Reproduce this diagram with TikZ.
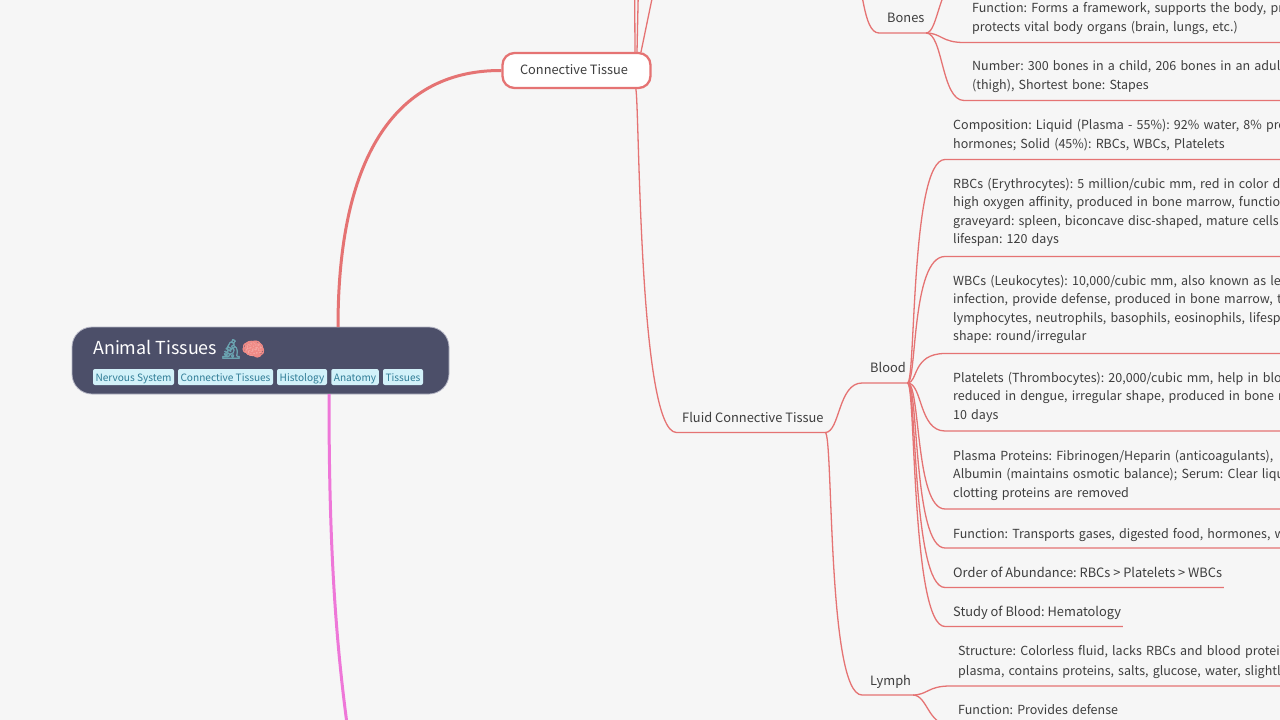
\documentclass[tikz,border=0pt]{standalone}
\usepackage{fontspec}
\setmainfont{Noto Sans CJK SC}
\newfontfamily\emojifont[FakeBold=2.5]{Noto Emoji}
\usetikzlibrary{calc}
\definecolor{bgc}{HTML}{F6F6F6}
\definecolor{redl}{HTML}{E57373}
\definecolor{pinkl}{HTML}{EE77D8}
\definecolor{rootc}{HTML}{4C4F69}
\definecolor{rootb}{HTML}{B4B5C4}
\definecolor{txt}{HTML}{3D3D3D}
\definecolor{tagbg}{HTML}{D2F1F9}
\definecolor{tagtx}{HTML}{2F7C96}
\definecolor{scopec}{HTML}{6AA3B0}
\definecolor{brainc}{HTML}{F08A86}
\definecolor{brainf}{HTML}{F5A5A0}
\newcommand\tstrut{\rule[-4.3pt]{0pt}{18.6pt}}
\newcommand\tagstrut{\rule[-2.1pt]{0pt}{13pt}}
\tikzset{
  x=1pt,y=-1pt,
  topic/.style={font=\frenchspacing\fontsize{12.85}{18.45}\selectfont,text=txt,inner xsep=1.5pt,inner ysep=6.2pt,xshift=2.5pt,anchor=south west,align=left,
    execute at begin node=\tstrut,execute at end node=\tstrut},
  longtopic/.style={topic,font=\frenchspacing\fontsize{12.5}{18.45}\selectfont,text width=400pt},
  low/.style={inner ysep=5.2pt},
  high/.style={inner ysep=7.2pt},
  higher/.style={inner ysep=8.2pt},
  edge/.style={draw=redl,line width=1.3pt},
  branch/.style 2 args={to path={let \p1=(\tikztostart),\p2=(\tikztotarget) in
     .. controls ({\x1+#1*(\x2-\x1)},\y1) and ({\x1+#2*(\x2-\x1)},\y2) .. (\tikztotarget)}},
  tagnode/.style={fill=tagbg,rounded corners=2pt,inner sep=0pt,minimum height=16pt,text=tagtx,font=\fontsize{10.1}{12}\selectfont,anchor=center,execute at begin node=\tagstrut},
}
\begin{document}
\begin{tikzpicture}
\useasboundingbox (0,0) rectangle (1280,720);
\fill[bgc] (0,0) rectangle (1280,720);
\begin{scope}
\clip (0,0) rectangle (1280,720);
% off-canvas ends
\coordinate (upA) at (634.5,-40);
\coordinate (upB) at (639,-40);
\coordinate (upC) at (660,-40);
\coordinate (bonesParent) at (855,-22);
\coordinate (bonesUp) at (962,-22);
\coordinate (pinkEnd) at (350,745);
% main nodes
\node[draw=rootb,line width=.8pt,fill=rootc,rounded corners=20pt,minimum width=377pt,minimum height=67pt,inner sep=0pt] (root) at (260.5,360.5) {};
\node[draw=redl,line width=2.3pt,fill=white,rounded corners=12pt,minimum width=148pt,minimum height=35pt,inner sep=0pt] (conn) at (576.5,70.5) {};
\draw[redl,line width=3pt] (338,327) .. controls (338,150) and (400,70) .. (conn.west);
\draw[pinkl,line width=3pt] (329,394) .. controls (329,520) and (333,630) .. (pinkEnd);
\node[font=\fontsize{12.8}{18}\selectfont,text=txt,inner sep=0pt] (connT) at (574,69.6) {Connective Tissue};
\node[font=\fontsize{17.9}{24}\selectfont,text=white,inner sep=0pt,anchor=base west] (rootT) at (93,354) {Animal Tissues};
\node[font=\emojifont\fontsize{19}{24}\selectfont,text=scopec,inner sep=0pt] (scopeE) at (231,349) {🔬};
\fill[brainf] (253.3,349) ellipse (9 and 7.2);
\node[font=\emojifont\fontsize{19}{24}\selectfont,text=brainc,inner sep=0pt] (brainE) at (253.3,349) {🧠};
\node[tagnode,minimum width=81pt] (t1) at (133.5,377) {Nervous System};
\node[tagnode,minimum width=95pt] (t2) at (225.5,377) {Connective Tissues};
\node[tagnode,minimum width=50pt] (t3) at (302,377) {Histology};
\node[tagnode,minimum width=47.5pt] (t4) at (355,377) {Anatomy};
\node[tagnode,minimum width=40pt] (t5) at (403,377) {Tissues};
% topics
\node[topic] (bones) at (883,33) {Bones};
\node[longtopic] (bfun) at (968,42.5) {Function: Forms a framework, supports the body, pr\\protects vital body organs (brain, lungs, etc.)};
\node[longtopic] (bnum) at (968,100.5) {Number: 300 bones in a child, 206 bones in an adult\\(thigh), Shortest bone: Stapes};
\node[topic,low] (fluid) at (678,432.5) {Fluid Connective Tissue};
\node[topic] (blood) at (866,383) {Blood};
\node[topic,low] (lymph) at (866,695) {Lymph};
\node[longtopic] (comp) at (949,159.5) {Composition: Liquid (Plasma - 55\%): 92\% water, 8\% pro\\hormones; Solid (45\%): RBCs, WBCs, Platelets};
\node[longtopic,higher] (rbc) at (949,256.5) {RBCs (Erythrocytes): 5 million/cubic mm, red in color du\\high oxygen affinity, produced in bone marrow, functio\\graveyard: spleen, biconcave disc-shaped, mature cells\\lifespan: 120 days};
\node[longtopic,higher] (wbc) at (949,353.5) {WBCs (Leukocytes): 10,000/cubic mm, also known as le\\infection, provide defense, produced in bone marrow, t\\lymphocytes, neutrophils, basophils, eosinophils, lifesp\\shape: round/irregular};
\node[longtopic,high] (plat) at (949,431) {Platelets (Thrombocytes): 20,000/cubic mm, help in blo\\reduced in dengue, irregular shape, produced in bone r\\10 days};
\node[longtopic,high] (plas) at (949,509) {Plasma Proteins: Fibrinogen/Heparin (anticoagulants),\\Albumin (maintains osmotic balance); Serum: Clear liqu\\clotting proteins are removed};
\node[longtopic,low] (ffun) at (949,548) {Function: Transports gases, digested food, hormones, w};
\node[topic,low] (order) at (949,587.5) {Order of Abundance: RBCs > Platelets > WBCs};
\node[topic,low] (study) at (949,626.5) {Study of Blood: Hematology};
\node[longtopic] (lstr) at (954,686) {Structure: Colorless fluid, lacks RBCs and blood protei\\plasma, contains proteins, salts, glucose, water, slightl};
\node[longtopic] (lfun) at (954,725) {Function: Provides defense};
% connectors
\draw[edge] (635,52) -- (upA);
\draw[edge] (637,52) -- (upB);
\draw[edge] (641,52) -- (upC);
\draw[edge] (635.5,88) to[branch={.1}{.05}] ([xshift=-4pt]fluid.south west) -- (fluid.south east);
\draw[edge] (bonesParent) to[branch={.35}{.3}] ([xshift=-6.5pt]bones.south west) -- (bones.south east);
\draw[edge] (bones.south east) to[branch={.35}{.35}] (bonesUp);
\draw[edge] (bones.south east) to[branch={.4}{.4}] ([xshift=-6.5pt]bfun.south west) -- (bfun.south east);
\draw[edge] (bones.south east) to[branch={.45}{.4}] ([xshift=-6.5pt]bnum.south west) -- (bnum.south east);
\draw[edge] (fluid.south east) to[branch={.4}{.35}] ([xshift=-6.5pt]blood.south west) -- (blood.south east);
\draw[edge] (fluid.south east) to[branch={.22}{.05}] ([xshift=-6.5pt]lymph.south west) -- (lymph.south east);
\foreach \c/\a/\b in {comp/.22/.08,rbc/.25/.1,wbc/.28/.12,plat/.4/.3,plas/.35/.2,ffun/.3/.15,order/.25/.12,study/.22/.1}{
  \draw[edge] (blood.south east) to[branch={\a}{\b}] ([xshift=-6.5pt]\c.south west) -- (\c.south east);
}
\draw[edge] (lymph.south east) to[branch={.4}{.4}] ([xshift=-6.5pt]lstr.south west) -- (lstr.south east);
\draw[edge] (lymph.south east) to[branch={.4}{.4}] ([xshift=-6.5pt]lfun.south west) -- (lfun.south east);
\end{scope}
\end{tikzpicture}
\end{document}
